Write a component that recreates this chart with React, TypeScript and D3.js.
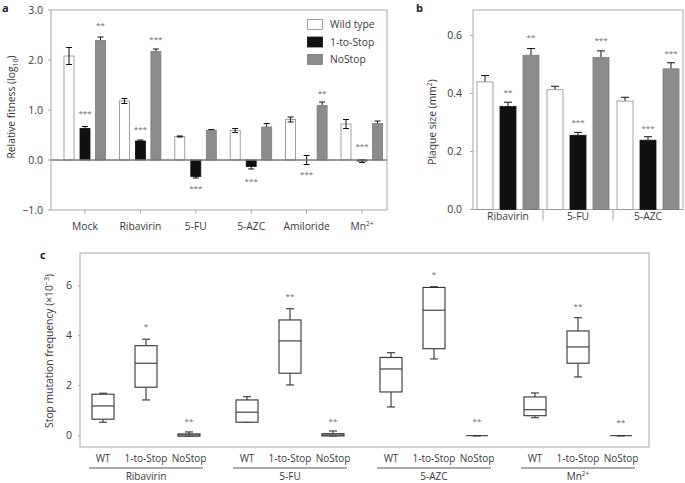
import React from 'react';
import * as d3 from 'd3';

// ---------- Panel a data ----------
const categoriesA = ['Mock', 'Ribavirin', '5-FU', '5-AZC', 'Amiloride', 'Mn2+'];
const seriesNames = ['Wild type', '1-to-Stop', 'NoStop'];
const wildTypeA = [2.08, 1.18, 0.47, 0.59, 0.81, 0.72];
const wildTypeAErr = [0.17, 0.05, 0.01, 0.04, 0.05, 0.09];
const oneToStopA = [0.63, 0.38, -0.33, -0.13, 0.0, -0.02];
const oneToStopAErr = [0.04, 0.02, 0.03, 0.05, 0.09, 0.03];
const noStopA = [2.39, 2.17, 0.59, 0.66, 1.09, 0.73];
const noStopAErr = [0.07, 0.05, 0.02, 0.07, 0.07, 0.05];
const yTicksA = [-1, 0, 1, 2, 3];
// significance marks: [category index, series index, label, value position]
const starsA: [number, number, string, number][] = [
  [0, 1, '***', 0.96], [0, 2, '**', 2.72],
  [1, 1, '***', 0.64], [1, 2, '***', 2.45],
  [2, 1, '***', -0.53], [3, 1, '***', -0.39],
  [4, 1, '***', -0.26], [4, 2, '**', 1.37],
  [5, 1, '***', 0.31],
];

// ---------- Panel b data ----------
const categoriesB = ['Ribavirin', '5-FU', '5-AZC'];
const wildTypeB = [0.44, 0.413, 0.374];
const wildTypeBErr = [0.022, 0.012, 0.013];
const oneToStopB = [0.355, 0.256, 0.239];
const oneToStopBErr = [0.015, 0.01, 0.012];
const noStopB = [0.532, 0.524, 0.485];
const noStopBErr = [0.023, 0.023, 0.021];
const yTicksB = [0, 0.2, 0.4, 0.6];
const starsB: [number, number, string, number][] = [
  [0, 1, '**', 0.41], [0, 2, '**', 0.598],
  [1, 1, '***', 0.306], [1, 2, '***', 0.587],
  [2, 1, '***', 0.285], [2, 2, '***', 0.544],
];

// ---------- Panel c data ----------
const groupsC = ['Ribavirin', '5-FU', '5-AZC', 'Mn2+'];
const strainsC = ['WT', '1-to-Stop', 'NoStop'];
// [lowWhisker, Q1, median, Q3, highWhisker] per group, per strain
const boxWT = [
  [0.54, 0.66, 1.19, 1.66, 1.7],
  [0.54, 0.54, 0.94, 1.43, 1.56],
  [1.15, 1.75, 2.67, 3.13, 3.32],
  [0.72, 0.8, 1.04, 1.55, 1.71],
];
const boxOneToStop = [
  [1.43, 1.94, 2.9, 3.6, 3.86],
  [2.03, 2.5, 3.79, 4.63, 5.08],
  [3.07, 3.48, 5.02, 5.93, 5.96],
  [2.35, 2.9, 3.55, 4.19, 4.72],
];
const boxNoStop = [
  [-0.02, -0.02, 0.03, 0.07, 0.15],
  [-0.01, -0.01, 0.03, 0.08, 0.19],
  [0, 0, 0, 0, 0],
  [0, 0, 0, 0, 0],
];
const starsC: [number, number, string, number][] = [
  [0, 1, '*', 4.43], [0, 2, '**', 0.63],
  [1, 1, '**', 5.63], [1, 2, '**', 0.63],
  [2, 1, '*', 6.5], [2, 2, '**', 0.63],
  [3, 1, '**', 5.23], [3, 2, '**', 0.6],
];
const yTicksC = [0, 2, 4, 6];

const FONT = '"Open Sans", "Noto Sans", sans-serif';
const TXT = '#3a3a3a';
const FRAME = '#a8a8a8';
const STAR = '#666666';
const fills = ['#ffffff', '#111111', '#8c8c8c'];
const strokes = ['#8a8a8a', '#111111', '#7a7a7a'];

function catLabel(c: string, fs: number) {
  if (c === 'Mn2+') {
    return (
      <>
        Mn<tspan dy={-4} fontSize={fs * 0.65}>2+</tspan>
      </>
    );
  }
  return c;
}

function PanelA() {
  const x = d3.scalePoint<string>().domain(categoriesA).range([85, 362]);
  const y = d3.scaleLinear().domain([-1, 3]).range([210, 10]);
  const offsets = [-16, 0, 15.5];
  const bw = 10;
  const series = [
    [wildTypeA, wildTypeAErr],
    [oneToStopA, oneToStopAErr],
    [noStopA, noStopAErr],
  ];
  const left = 51, right = 387;
  return (
    <g>
      <text x={2} y={12} fontFamily={FONT} fontWeight="bold" fontSize={11} fill="#222">a</text>
      <rect x={left} y={y(3)} width={right - left} height={y(-1) - y(3)} fill="none" stroke={FRAME} />
      {yTicksA.map((t) => (
        <g key={t}>
          <line x1={left - 3} x2={left} y1={y(t)} y2={y(t)} stroke={FRAME} />
          <text x={43} y={y(t)} dy="0.35em" textAnchor="end" fontFamily={FONT} fontSize={10.5} fill={TXT}>
            {t.toFixed(1).replace('-', '\u2212')}
          </text>
        </g>
      ))}
      {categoriesA.map((c) => (
        <g key={c}>
          <line x1={x(c)} x2={x(c)} y1={y(-1)} y2={y(-1) + 4} stroke={FRAME} />
          <text x={x(c)} y={230} textAnchor="middle" fontFamily={FONT} fontSize={10.3} fill={TXT}>
            {catLabel(c, 10.3)}
          </text>
        </g>
      ))}
      <text transform={`translate(15,107) rotate(-90)`} textAnchor="middle" fontFamily={FONT} fontSize={10.3} fill={TXT}>
        Relative fitness (log<tspan dy={3} fontSize={7}>10</tspan><tspan dy={-3}>)</tspan>
      </text>
      {series.map(([vals, errs], si) =>
        categoriesA.map((c, ci) => {
          const v = vals[ci];
          const e = errs[ci];
          const cx = (x(c) as number) + offsets[si];
          const top = Math.min(y(v), y(0));
          const h = Math.abs(y(v) - y(0));
          const errHi = v + e;
          const errLo = v - e;
          const eb = (
            <g stroke="#111" strokeWidth={1}>
              <line x1={cx} x2={cx} y1={y(errHi)} y2={y(errLo)} />
              <line x1={cx - 3} x2={cx + 3} y1={y(errHi)} y2={y(errHi)} />
              <line x1={cx - 3} x2={cx + 3} y1={y(errLo)} y2={y(errLo)} />
            </g>
          );
          return (
            <g key={`${si}-${c}`}>
              {si > 0 && eb}
              <rect x={cx - bw / 2} y={top} width={bw} height={h} fill={fills[si]} stroke={strokes[si]} strokeWidth={0.8} />
              {si === 0 && eb}
            </g>
          );
        })
      )}
      <line x1={left} x2={right} y1={y(0)} y2={y(0)} stroke="#7a7a7a" strokeWidth={1.4} />
      {starsA.map(([ci, si, s, v], i) => (
        <text key={i} x={(x(categoriesA[ci]) as number) + offsets[si]} y={y(v)} dy="0.5em" textAnchor="middle" fontFamily={FONT} fontSize={8} fill={STAR}>
          {s}
        </text>
      ))}
      {seriesNames.map((n, i) => (
        <g key={n}>
          <rect x={307.5} y={19.5 + i * 17.5} width={15} height={10} fill={fills[i]} stroke={strokes[i]} strokeWidth={0.8} />
          <text x={330} y={24.5 + i * 17.5} dy="0.35em" fontFamily={FONT} fontSize={10.3} fill={TXT}>{n}</text>
        </g>
      ))}
    </g>
  );
}

function PanelB() {
  const x = d3.scaleBand<string>().domain(categoriesB).range([473, 683]);
  const y = d3.scaleLinear().domain([0, 0.6]).range([209.5, 35.5]);
  const offsets = [-23, 0, 23];
  const bw = 16;
  const series = [
    [wildTypeB, wildTypeBErr],
    [oneToStopB, oneToStopBErr],
    [noStopB, noStopBErr],
  ];
  const left = 473, right = 683, top = 10;
  return (
    <g>
      <text x={416} y={12} fontFamily={FONT} fontWeight="bold" fontSize={11} fill="#222">b</text>
      <rect x={left} y={top} width={right - left} height={y(0) - top} fill="none" stroke={FRAME} />
      {yTicksB.map((t) => (
        <g key={t}>
          <line x1={left - 3} x2={left} y1={y(t)} y2={y(t)} stroke={FRAME} />
          <text x={462} y={y(t)} dy="0.35em" textAnchor="end" fontFamily={FONT} fontSize={10.5} fill={TXT}>
            {t.toFixed(1)}
          </text>
        </g>
      ))}
      <text transform={`translate(436,122) rotate(-90)`} textAnchor="middle" fontFamily={FONT} fontSize={10.3} fill={TXT}>
        Plaque size (mm<tspan dy={-4} fontSize={7}>2</tspan><tspan dy={4}>)</tspan>
      </text>
      {categoriesB.slice(1).map((c) => (
        <line key={c} x1={x(c)} x2={x(c)} y1={y(0)} y2={y(0) + 11} stroke={FRAME} />
      ))}
      {categoriesB.map((c) => (
        <text key={c} x={(x(c) as number) + x.bandwidth() / 2} y={219.5} textAnchor="middle" fontFamily={FONT} fontSize={10.3} fill={TXT}>
          {c}
        </text>
      ))}
      {series.map(([vals, errs], si) =>
        categoriesB.map((c, ci) => {
          const v = vals[ci];
          const e = errs[ci];
          const cx = (x(c) as number) + x.bandwidth() / 2 + offsets[si];
          return (
            <g key={`${si}-${c}`}>
              <g stroke="#111" strokeWidth={1}>
                <line x1={cx} x2={cx} y1={y(v + e)} y2={y(v)} />
                <line x1={cx - 4} x2={cx + 4} y1={y(v + e)} y2={y(v + e)} />
              </g>
              <rect x={cx - bw / 2} y={y(v)} width={bw} height={y(0) - y(v)} fill={fills[si]} stroke={strokes[si]} strokeWidth={0.8} />
            </g>
          );
        })
      )}
      {starsB.map(([ci, si, s, v], i) => (
        <text key={i} x={(x(categoriesB[ci]) as number) + x.bandwidth() / 2 + offsets[si]} y={y(v)} dy="0.5em" textAnchor="middle" fontFamily={FONT} fontSize={8} fill={STAR}>
          {s}
        </text>
      ))}
    </g>
  );
}

function PanelC() {
  const gx = d3.scalePoint<string>().domain(groupsC).range([146, 578]);
  const y = d3.scaleLinear().domain([0, 6]).range([435.7, 285.7]);
  const offsets = [-43, 0, 43];
  const boxes = [boxWT, boxOneToStop, boxNoStop];
  const left = 80, right = 649, top = 253, bottom = 447;
  const bw = 22;
  return (
    <g>
      <text x={40} y={259} fontFamily={FONT} fontWeight="bold" fontSize={11} fill="#222">c</text>
      <rect x={left} y={top} width={right - left} height={bottom - top} fill="none" stroke={FRAME} />
      {yTicksC.map((t) => (
        <g key={t}>
          <line x1={left - 2} x2={left} y1={y(t)} y2={y(t)} stroke={FRAME} />
          <text x={72} y={y(t)} dy="0.35em" textAnchor="end" fontFamily={FONT} fontSize={10.5} fill={TXT}>{t}</text>
        </g>
      ))}
      <text transform={`translate(53,351) rotate(-90)`} textAnchor="middle" fontFamily={FONT} fontSize={10.3} fill={TXT}>
        Stop mutation frequency (×10<tspan dy={-4} fontSize={7}>{'\u22123'}</tspan><tspan dy={4}>)</tspan>
      </text>
      {groupsC.map((g, gi) => {
        const gc = gx(g) as number;
        return (
          <g key={g}>
            {strainsC.map((s, si) => (
              <text key={s} x={gc + offsets[si]} y={462} textAnchor="middle" fontFamily={FONT} fontSize={10} fill={TXT}>{s}</text>
            ))}
            <line x1={gc - 57} x2={gc + 57} y1={468} y2={468} stroke="#444" strokeWidth={0.9} />
            <text x={gc} y={480} textAnchor="middle" fontFamily={FONT} fontSize={10} fill={TXT}>{catLabel(g, 10)}</text>
            {boxes.map((b, si) => {
              const [lo, q1, med, q3, hi] = b[gi];
              const cx = gc + offsets[si];
              return (
                <g key={si} stroke="#333" strokeWidth={1.1} fill="none">
                  <line x1={cx} x2={cx} y1={y(hi)} y2={y(q3)} />
                  <line x1={cx} x2={cx} y1={y(q1)} y2={y(lo)} />
                  <line x1={cx - 4} x2={cx + 4} y1={y(hi)} y2={y(hi)} />
                  <line x1={cx - 4} x2={cx + 4} y1={y(lo)} y2={y(lo)} />
                  <rect x={cx - bw / 2} y={y(q3)} width={bw} height={Math.max(0, y(q1) - y(q3))} fill="#fff" />
                  <line x1={cx - bw / 2} x2={cx + bw / 2} y1={y(med)} y2={y(med)} />
                </g>
              );
            })}
          </g>
        );
      })}
      {starsC.map(([gi, si, s, v], i) => (
        <text key={i} x={(gx(groupsC[gi]) as number) + offsets[si]} y={y(v)} dy="0.5em" textAnchor="middle" fontFamily={FONT} fontSize={8} fill={STAR}>
          {s}
        </text>
      ))}
    </g>
  );
}

export default function App() {
  return (
    <svg width={685} height={483} style={{ position: 'absolute', left: 0, top: 0, background: '#fff' }}>
      <rect width={685} height={483} fill="#fff" />
      <PanelA />
      <PanelB />
      <PanelC />
    </svg>
  );
}
